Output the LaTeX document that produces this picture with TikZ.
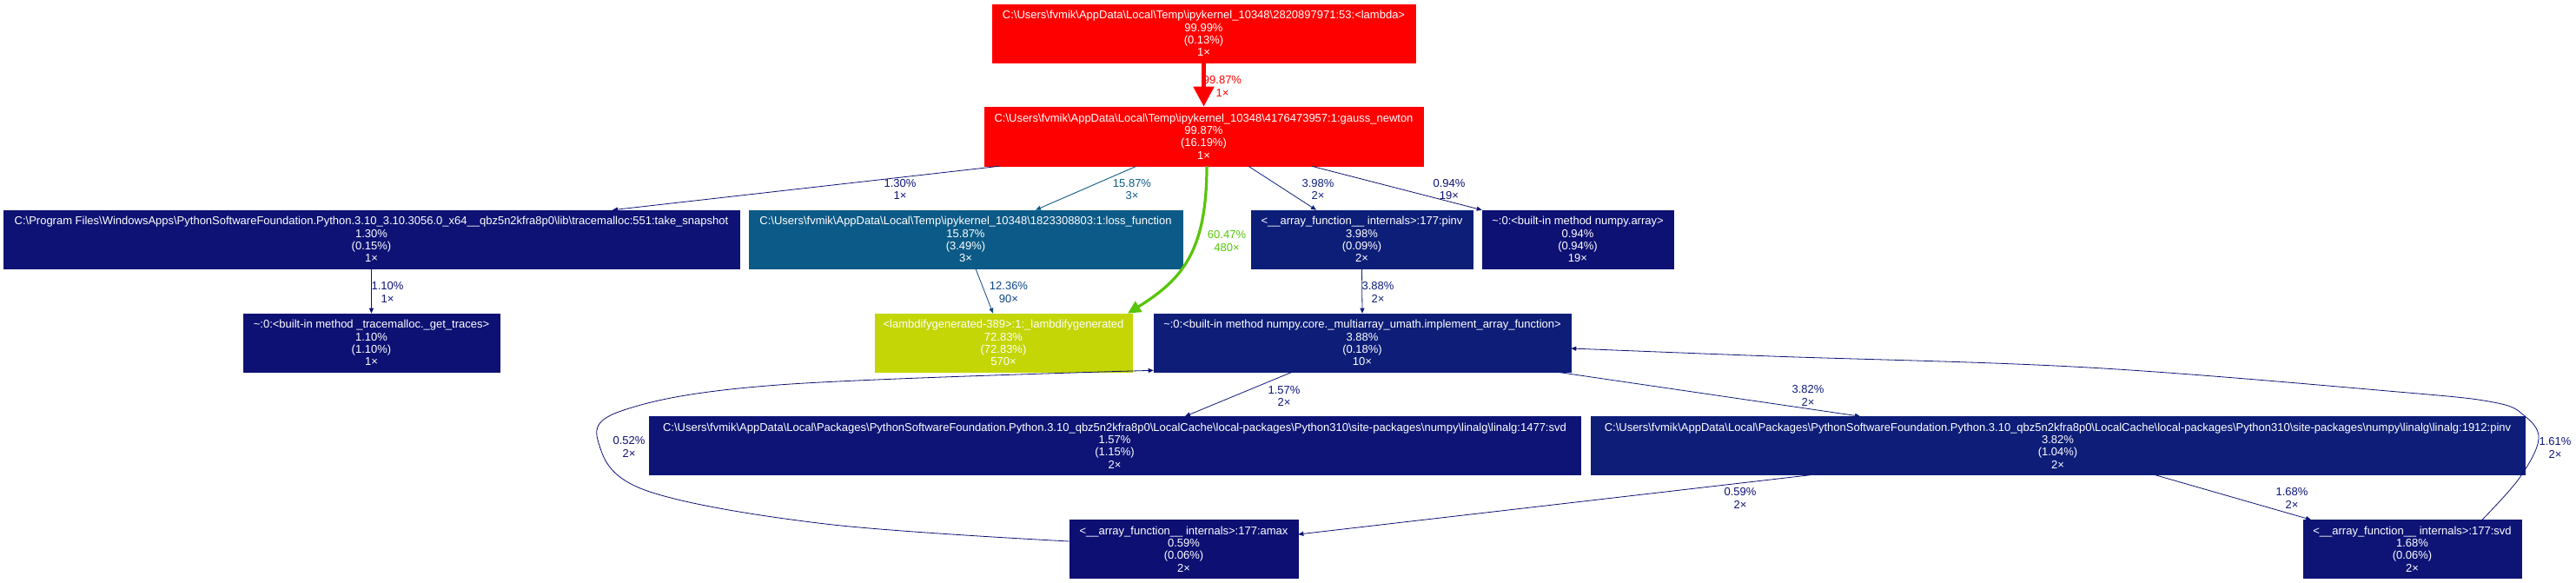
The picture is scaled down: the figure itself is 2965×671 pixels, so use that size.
\documentclass[tikz,border=0pt]{standalone}
\usepackage{fontspec}
\setmainfont{Liberation Sans}
\usetikzlibrary{arrows.meta}
\definecolor{cred}{HTML}{FF0000}
\definecolor{closs}{HTML}{0C5A87}
\definecolor{clam}{HTML}{C4D606}
\definecolor{cgreen}{HTML}{57C508}
\definecolor{cmid}{HTML}{0D4783}
\definecolor{cpinv}{HTML}{0D1E78}
\definecolor{cimpl}{HTML}{0D1D78}
\definecolor{csvd}{HTML}{0D1475}
\definecolor{csnap}{HTML}{0D1274}
\definecolor{ctrace}{HTML}{0D1174}
\definecolor{camax}{HTML}{0D0F73}
\newcommand{\bs}{\textbackslash}
\begin{document}
\begin{tikzpicture}[x=1pt,y=-1pt,
  box/.style={rectangle, draw=#1, fill=#1, text=white, inner sep=0pt, align=center,
    font=\fontsize{13}{14.2}\selectfont, minimum height=67pt, line width=0.6pt},
  lbl/.style={text=#1, align=center, inner sep=0pt, font=\fontsize{13}{14.2}\selectfont},
  thinedge/.style={draw=#1, line width=0.8pt, -{Triangle[length=6pt,width=5pt]}},
]
\useasboundingbox (0,0) rectangle (2965,671);
% nodes
\node[box=cred, minimum width=487pt] (A) at (1385.5,38.5)
  {C:\bs Users\bs fvmik\bs AppData\bs Local\bs Temp\bs ipykernel\_10348\bs 2820897971:53:<lambda>\\99.99\%\\(0.13\%)\\1×};
\node[box=cred, minimum width=505pt, minimum height=68pt] (B) at (1385.5,157)
  {C:\bs Users\bs fvmik\bs AppData\bs Local\bs Temp\bs ipykernel\_10348\bs 4176473957:1:gauss\_newton\\99.87\%\\(16.19\%)\\1×};
\node[box=csnap, minimum width=847pt] (C) at (427.5,275.5)
  {C:\bs Program Files\bs WindowsApps\bs PythonSoftwareFoundation.Python.3.10\_3.10.3056.0\_x64\_\_qbz5n2kfra8p0\bs lib\bs tracemalloc:551:take\_snapshot\\1.30\%\\(0.15\%)\\1×};
\node[box=closs, minimum width=499pt] (E) at (1111.5,275.5)
  {C:\bs Users\bs fvmik\bs AppData\bs Local\bs Temp\bs ipykernel\_10348\bs 1823308803:1:loss\_function\\15.87\%\\(3.49\%)\\3×};
\node[box=cpinv, minimum width=255pt] (P) at (1567.5,275.5)
  {<\_\_array\_function\_\_ internals>:177:pinv\\3.98\%\\(0.09\%)\\2×};
\node[box=ctrace, minimum width=220pt] (N) at (1816,275.5)
  {\textasciitilde:0:<built-in method numpy.array>\\0.94\%\\(0.94\%)\\19×};
\node[box=ctrace, minimum width=295pt] (D) at (427.5,394.5)
  {\textasciitilde:0:<built-in method \_tracemalloc.\_get\_traces>\\1.10\%\\(1.10\%)\\1×};
\node[box=clam, minimum width=296pt] (F) at (1155,394.5)
  {<lambdifygenerated-389>:1:\_lambdifygenerated\\72.83\%\\(72.83\%)\\570×};
\node[box=cimpl, minimum width=480pt] (I) at (1568,394.5)
  {\textasciitilde:0:<built-in method numpy.core.\_multiarray\_umath.implement\_array\_function>\\3.88\%\\(0.18\%)\\10×};
\node[box=csvd, minimum width=1072pt] (S1) at (1283,513)
  {C:\bs Users\bs fvmik\bs AppData\bs Local\bs Packages\bs PythonSoftwareFoundation.Python.3.10\_qbz5n2kfra8p0\bs LocalCache\bs local-packages\bs Python310\bs site-packages\bs numpy\bs linalg\bs linalg:1477:svd\\1.57\%\\(1.15\%)\\2×};
\node[box=cimpl, minimum width=1075pt] (S2) at (2368.5,513)
  {C:\bs Users\bs fvmik\bs AppData\bs Local\bs Packages\bs PythonSoftwareFoundation.Python.3.10\_qbz5n2kfra8p0\bs LocalCache\bs local-packages\bs Python310\bs site-packages\bs numpy\bs linalg\bs linalg:1912:pinv\\3.82\%\\(1.04\%)\\2×};
\node[box=camax, minimum width=263pt] (M) at (1362.5,632)
  {<\_\_array\_function\_\_ internals>:177:amax\\0.59\%\\(0.06\%)\\2×};
\node[box=csvd, minimum width=251pt] (V) at (2776.5,632)
  {<\_\_array\_function\_\_ internals>:177:svd\\1.68\%\\(0.06\%)\\2×};
% labels
\node[lbl=cred] (lAB) at (1407,99.5) {99.87\%\\1×};
\node[lbl=csnap] (lBC) at (1036,218) {1.30\%\\1×};
\node[lbl=closs] (lBE) at (1303,218) {15.87\%\\3×};
\node[lbl=cgreen] (lBF) at (1412,277.5) {60.47\%\\480×};
\node[lbl=cpinv] (lBP) at (1517,218) {3.98\%\\2×};
\node[lbl=ctrace] (lBN) at (1668,218) {0.94\%\\19×};
\node[lbl=ctrace] (lCD) at (446,336.5) {1.10\%\\1×};
\node[lbl=cmid] (lEF) at (1161,336.5) {12.36\%\\90×};
\node[lbl=cimpl] (lPI) at (1586,336.5) {3.88\%\\2×};
\node[lbl=csvd] (lIS1) at (1478,456) {1.57\%\\2×};
\node[lbl=cimpl] (lIS2) at (2081,455.5) {3.82\%\\2×};
\node[lbl=camax] (lS2M) at (2003,573.5) {0.59\%\\2×};
\node[lbl=csvd] (lS2V) at (2638,573.5) {1.68\%\\2×};
\node[lbl=csvd] (lVI) at (2941,515.5) {1.61\%\\2×};
\node[lbl=camax] (lMI) at (724,514.5) {0.52\%\\2×};
% edges
\draw[draw=cred, line width=5pt, -{Triangle[length=23pt,width=23pt]}] (A.south) -- (B.north);
\draw[thinedge=csnap] ([xshift=-235.5pt]B.south) -- ([xshift=277.5pt]C.north);
\draw[thinedge=closs, line width=0.9pt] ([xshift=-77.5pt]B.south) -- ([xshift=80.5pt]E.north);
\draw[draw=cgreen, line width=3.2pt, -{Triangle[length=15pt,width=14pt]}]
  ([xshift=3.5pt]B.south) .. controls (1389,290) and (1360,322) .. ([xshift=143pt]F.north);
\draw[thinedge=cpinv] ([xshift=51.5pt]B.south) -- ([xshift=-52.5pt]P.north);
\draw[thinedge=ctrace] ([xshift=124.5pt]B.south) -- (N.north west);
\draw[thinedge=ctrace] (C.south) -- (D.north);
\draw[thinedge=cmid] ([xshift=11.5pt]E.south) -- ([xshift=-12pt]F.north);
\draw[thinedge=cimpl] (P.south) -- (I.north);
\draw[thinedge=csvd] ([xshift=-81pt]I.south) -- ([xshift=81pt]S1.north);
\draw[thinedge=cimpl] ([xshift=225pt]I.south) -- ([xshift=-227.5pt]S2.north);
\draw[thinedge=camax] ([xshift=-285.5pt]S2.south) -- ([yshift=17pt]M.east);
\draw[thinedge=csvd] ([xshift=112.5pt]S2.south) -- ([xshift=-116.5pt]V.north);
\draw[thinedge=csvd] plot[smooth, tension=0.6] coordinates
  {([xshift=80.5pt]V.north) (2900,550) (2922,505) (2905,478) (2870,463) (2760,451) (2404,423) (2039,410) ([yshift=-6.5pt]I.east)};
\draw[thinedge=camax] plot[smooth, tension=0.6] coordinates
  {([yshift=9pt]M.west) (950,603) (745,565) (690,513) (715,473) (896,443) ([yshift=2pt]I.south west)};
\end{tikzpicture}
\end{document}
